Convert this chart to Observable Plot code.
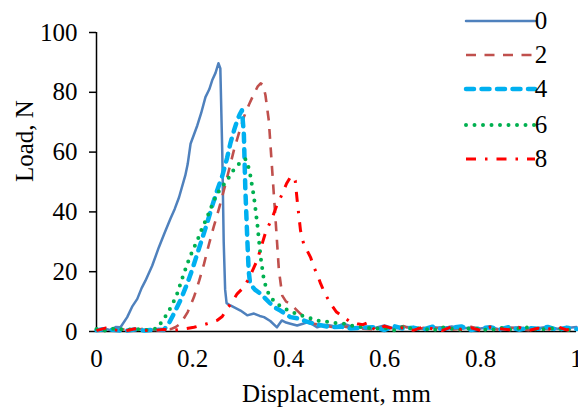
<!DOCTYPE html>
<html><head><meta charset="utf-8">
<script src="https://cdn.jsdelivr.net/npm/d3@7"></script>
<script src="https://cdn.jsdelivr.net/npm/@observablehq/plot@0.6"></script>
<style>
body{margin:0;background:#fff;}
#wrap{position:relative;width:578px;height:410px;}
</style></head><body><div id="wrap"></div>
<script>
// ---- data ----
const seriesNames = ["0", "2", "4", "6", "8"];
const seriesColors = ["#4F81BD", "#C0504D", "#00B0F0", "#00B050", "#FF0000"];
const xTicks = [0, 0.2, 0.4, 0.6, 0.8, 1];
const yTicks = [0, 20, 40, 60, 80, 100];

const disp0 = [0, 0.015, 0.03, 0.04, 0.05, 0.064, 0.075, 0.085, 0.094, 0.102, 0.116, 0.13, 0.142, 0.154, 0.163, 0.172, 0.185, 0.19, 0.196, 0.21, 0.218, 0.227, 0.235, 0.241, 0.248, 0.254, 0.258, 0.262, 0.265, 0.268, 0.271, 0.279, 0.29, 0.3, 0.314, 0.328, 0.34, 0.349, 0.362, 0.376, 0.386, 0.395, 0.404, 0.418, 0.43, 0.439, 0.45, 0.46, 0.475, 0.4875, 0.5, 0.515, 0.536, 0.555];
const load0 = [0.6, 1.0, 0.4, 1.5, 1.4, 4.8, 8.5, 10.9, 14.5, 17, 22, 28.2, 33, 37.7, 41, 44.9, 52.2, 56, 62.8, 68.9, 73, 78.4, 81, 84, 86.5, 89.7, 88, 60, 30, 14, 9.5, 8.7, 7.8, 7, 5.4, 6, 5.2, 4.8, 3.5, 1.4, 3.7, 3.0, 2.6, 2, 2.6, 3.1, 2.4, 1.4, 2.2, 2.0, 1.6, 2.6, 1.4, 1.2];

const disp2 = [0, 0.02, 0.04, 0.06, 0.08, 0.1, 0.12, 0.14, 0.155, 0.165, 0.175, 0.19, 0.203, 0.214, 0.224, 0.234, 0.244, 0.255, 0.265, 0.276, 0.286, 0.297, 0.307, 0.318, 0.328, 0.336, 0.342, 0.347, 0.352, 0.359, 0.366, 0.373, 0.38, 0.387, 0.395, 0.404, 0.415, 0.425, 0.44, 0.453, 0.47, 0.49, 0.51, 0.53, 0.555];
const load2 = [0.5, 1.0, 0.3, 0.8, 0.4, 1.0, 0.5, 0.6, 0.8, 1.5, 2.6, 6.5, 11.5, 17, 22.6, 29, 34.9, 41, 47, 54, 60.5, 66.5, 71.7, 76, 79.5, 82, 83, 82.5, 79, 70.5, 54, 37.5, 20.5, 12, 10, 9.3, 7.5, 5.9, 4.2, 2.6, 2.2, 1.5, 1.9, 1.2, 0.9];

const disp4 = [0, 0.02, 0.04, 0.06, 0.08, 0.1, 0.12, 0.14, 0.15, 0.161, 0.175, 0.189, 0.2, 0.21, 0.22, 0.23, 0.241, 0.251, 0.262, 0.272, 0.279, 0.287, 0.293, 0.298, 0.303, 0.307, 0.31, 0.314, 0.317, 0.32, 0.33, 0.342, 0.352, 0.3625, 0.372, 0.383, 0.393, 0.404, 0.418, 0.435, 0.453, 0.47, 0.4875, 0.51, 0.53, 0.555];
const load4 = [0.4, 0.8, 0.5, 0.2, 0.7, 0.3, 0.6, 0.5, 2.5, 5.9, 10.5, 16, 21, 26, 31, 36, 42, 47, 52, 58, 63, 67.5, 70.5, 72.5, 74, 66, 48, 31.5, 20.4, 16, 14, 12.6, 11, 9.3, 8, 7, 6, 4.8, 4.4, 3.5, 2.6, 2.0, 1.4, 1.6, 1.0, 1.3];

const disp6 = [0, 0.02, 0.04, 0.06, 0.08, 0.1, 0.115, 0.126, 0.137, 0.147, 0.158, 0.168, 0.178, 0.189, 0.2, 0.21, 0.22, 0.23, 0.24, 0.251, 0.262, 0.272, 0.281, 0.29, 0.3, 0.31, 0.315, 0.32, 0.328, 0.335, 0.342, 0.349, 0.356, 0.3625, 0.372, 0.383, 0.4, 0.425, 0.44, 0.46, 0.49, 0.515, 0.535, 0.555];
const load6 = [0.8, 0.3, 1.2, 0.5, 0.9, 0.4, 0.7, 1.0, 3.5, 5.9, 9, 12.6, 17.5, 22.6, 27, 30.4, 34.5, 38, 42, 46, 48.5, 50.5, 53, 55, 56.5, 57.7, 56, 52.7, 45, 36, 24.8, 17, 13.5, 11.5, 9.8, 8.5, 7, 5.4, 4.8, 3.7, 3.0, 2.6, 1.8, 1.5];

const disp8 = [0, 0.02, 0.04, 0.06, 0.08, 0.1, 0.12, 0.14, 0.16, 0.18, 0.203, 0.23, 0.251, 0.262, 0.272, 0.283, 0.293, 0.307, 0.32, 0.335, 0.352, 0.366, 0.376, 0.387, 0.396, 0.404, 0.409, 0.414, 0.418, 0.425, 0.432, 0.439, 0.446, 0.453, 0.46, 0.467, 0.475, 0.4875, 0.5, 0.515, 0.53, 0.543, 0.555, 0.567];
const load8 = [0.3, 1.2, 0.5, 0.2, 0.9, 0.4, 0.3, 0.7, 0.4, 0.8, 1.4, 2.6, 3.7, 5, 7.6, 10, 12.6, 14.8, 18.5, 24, 33, 38, 42.3, 46, 49.5, 51.6, 52, 50.5, 44, 33.8, 29, 27, 24.8, 21.5, 19, 16, 13, 9.3, 6.5, 4.8, 3.1, 2.6, 2.3, 3.1];

// noisy tail after failure (0.58 .. 1.00)
const tailDisp = [0.58, 0.60, 0.62, 0.64, 0.66, 0.68, 0.70, 0.72, 0.74, 0.76, 0.78, 0.80, 0.82, 0.84, 0.86, 0.88, 0.90, 0.92, 0.94, 0.96, 0.98, 1.00];
const tail0 = [1.2, 2.0, 1.0, 1.6, 1.3, 0.8, 1.5, 1.1, 1.7, 0.9, 1.3, 1.0, 1.5, 0.7, 1.2, 1.4, 0.8, 1.1, 1.6, 0.9, 1.2, 1.5];
const tail2 = [0.6, 1.5, 0.9, 1.8, 0.5, 1.2, 0.8, 1.4, 0.6, 1.0, 1.6, 0.7, 1.1, 0.5, 1.3, 0.9, 0.4, 1.2, 0.8, 1.4, 0.6, 1.0];
const tail4 = [1.4, 0.5, 1.8, 0.9, 1.3, 0.6, 1.6, 0.8, 1.2, 1.7, 0.5, 1.1, 1.4, 0.7, 1.5, 0.6, 1.2, 0.9, 1.5, 0.5, 1.3, 0.8];
const tail6 = [0.9, 1.2, 0.4, 1.6, 0.8, 1.1, 0.3, 1.4, 0.9, 0.5, 1.2, 0.8, 0.3, 1.3, 0.6, 1.0, 1.4, 0.5, 0.9, 1.2, 0.4, 1.1];
const tail8 = [0.4, 1.8, 0.8, 1.3, 0.4, 1.5, 0.9, 0.3, 1.6, 0.7, 1.2, 0.4, 1.5, 0.9, 0.6, 1.4, 0.3, 1.1, 0.7, 1.6, 0.5, 1.2];

// ---- styles ----
const lineStyles = [
  {strokeWidth: 2.5, strokeDasharray: null, strokeLinecap: "round"},
  {strokeWidth: 2.6, strokeDasharray: "10,8.5", strokeLinecap: "butt"},
  {strokeWidth: 4.5, strokeDasharray: "8,7.5", strokeLinecap: "round"},
  {strokeWidth: 4, strokeDasharray: "0,8.5", strokeLinecap: "round"},
  {strokeWidth: 3, strokeDasharray: "10,9,2.5,9", strokeLinecap: "butt"}
];

const dispArrs = [disp0, disp2, disp4, disp6, disp8];
const loadArrs = [load0, load2, load4, load6, load8];
const tailArrs = [tail0, tail2, tail4, tail6, tail8];

const tables = seriesNames.map((s, i) => {
  const rows = dispArrs[i].map((x, j) => ({x, y: loadArrs[i][j], s}));
  tailDisp.forEach((x, j) => rows.push({x, y: tailArrs[i][j], s}));
  return rows;
});

const FONT = "'Liberation Serif', 'Times New Roman', Times, serif";

const chart = Plot.plot({
  width: 578, height: 410,
  marginLeft: 96, marginRight: 2, marginTop: 32, marginBottom: 79,
  style: {fontFamily: FONT, fontSize: "25px", background: "#fff", color: "#000", overflow: "visible"},
  x: {domain: [0, 1]},
  y: {domain: [0, 100]},
  marks: [
    Plot.axisX({ticks: xTicks, tickSize: 0, tickPadding: 18, tickFormat: d => String(d), label: null, fontSize: 25}),
    Plot.axisY({ticks: yTicks, tickSize: 7, tickPadding: 12, tickFormat: d => String(d), label: null, fontSize: 25, strokeWidth: 1.5}),
    Plot.ruleY([0], {stroke: "#000", strokeWidth: 1.5}),
    Plot.ruleX([0], {stroke: "#000", strokeWidth: 1.5}),
    ...tables.map((rows, i) => Plot.line(rows, {
      x: "x", y: "y", stroke: seriesColors[i],
      strokeWidth: lineStyles[i].strokeWidth,
      strokeDasharray: lineStyles[i].strokeDasharray,
      strokeLinecap: lineStyles[i].strokeLinecap,
      strokeLinejoin: "round",
      clip: false
    })),
    Plot.text(["Displacement, mm"], {text: d => d, frameAnchor: "bottom", dy: 70, fontSize: 25, fill: "#000"}),
    Plot.text(["Load, N"], {text: d => d, frameAnchor: "left", dx: -72, rotate: -90, fontSize: 25, fill: "#000"})
  ]
});

document.getElementById("wrap").appendChild(chart);

// legend (top right, inside the figure)
const legendRowsY = [21, 55, 89, 125, 159];
const lg = d3.select(chart).append("g").attr("class", "legend");
seriesNames.forEach((s, i) => {
  const g = lg.append("g").attr("transform", `translate(0,${legendRowsY[i]})`);
  g.append("line").attr("x1", 466).attr("x2", 535).attr("y1", 0).attr("y2", 0)
    .attr("stroke", seriesColors[i]).attr("stroke-width", lineStyles[i].strokeWidth)
    .attr("stroke-dasharray", lineStyles[i].strokeDasharray)
    .attr("stroke-linecap", lineStyles[i].strokeLinecap);
  g.append("text").attr("x", 541).attr("y", 0).attr("dy", "0.32em")
    .attr("font-family", FONT).attr("font-size", 25).attr("fill", "#000").text(s);
});
</script></body></html>
